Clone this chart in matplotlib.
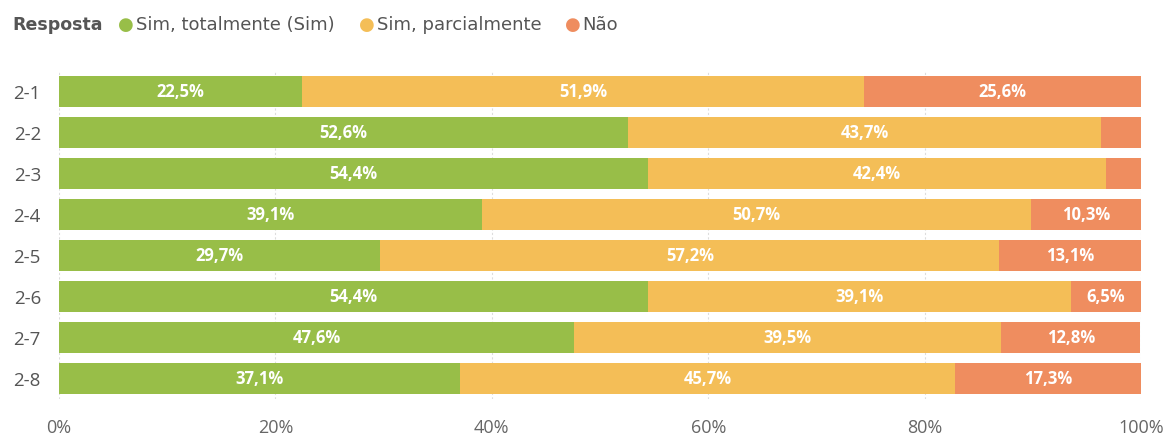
import matplotlib
matplotlib.use("Agg")
import matplotlib.pyplot as plt
import numpy as np

# data
categories = ["2-1", "2-2", "2-3", "2-4", "2-5", "2-6", "2-7", "2-8"]
series_names = ["Sim, totalmente (Sim)", "Sim, parcialmente", "Não"]
sim_total = [22.5, 52.6, 54.4, 39.1, 29.7, 54.4, 47.6, 37.1]
sim_parcial = [51.9, 43.7, 42.4, 50.7, 57.2, 39.1, 39.5, 45.7]
nao = [25.6, 3.7, 3.2, 10.3, 13.1, 6.5, 12.8, 17.3]
xticks = [0, 20, 40, 60, 80, 100]

colors = ["#98BE48", "#F4BE57", "#EF8D5F"]

plt.rcParams['font.family'] = ['Open Sans', 'DejaVu Sans']

W, H = 1166, 439
fig = plt.figure(figsize=(W / 100, H / 100), dpi=100)
ax = fig.add_axes([0.0506, 0.0888, 0.928, 0.748])

y = np.arange(len(categories))
left = np.zeros(len(categories))
for vals, col in zip([sim_total, sim_parcial, nao], colors):
    vals = np.array(vals)
    ax.barh(y, vals, left=left, height=0.76, color=col, zorder=2)
    for yi, l, v in zip(y, left, vals):
        if v >= 5:
            ax.text(l + v / 2, yi, f"{v:.1f}%".replace(".", ","), ha="center", va="center",
                    color="white", fontsize=12, fontweight="bold", zorder=3)
    left = left + vals

ax.set_xlim(0, 100)
ax.set_ylim(len(categories) - 0.5, -0.5)
ax.set_yticks(y)
ax.set_yticklabels(categories, fontsize=13.5, color="#555555")
ax.set_xticks(xticks)
ax.set_xticklabels([f"{t}%" for t in xticks], fontsize=13, color="#666666")
ax.tick_params(axis="y", length=0, pad=13)
ax.tick_params(axis="x", length=0, pad=14)
ax.grid(axis="x", color="#dddddd", linestyle=(0, (2, 2)), linewidth=0.8, zorder=0)
for s in ax.spines.values():
    s.set_visible(False)

# legend row
ly = 1 - 25 / H
fig.text(12 / W, ly, "Resposta", fontsize=12.5, fontweight="bold", color="#555555", va="center",
         family="DejaVu Sans")
dot_x = [126, 367, 573]
txt_x = [136, 377, 582]
for dx, tx, name, col in zip(dot_x, txt_x, series_names, colors):
    fig.text(dx / W, ly, "●", fontsize=13, color=col, va="center", ha="center", family="DejaVu Sans")
    fig.text(tx / W, ly, name, fontsize=13, color="#555555", va="center", family="DejaVu Sans")

plt.savefig("out.png", dpi=100)
